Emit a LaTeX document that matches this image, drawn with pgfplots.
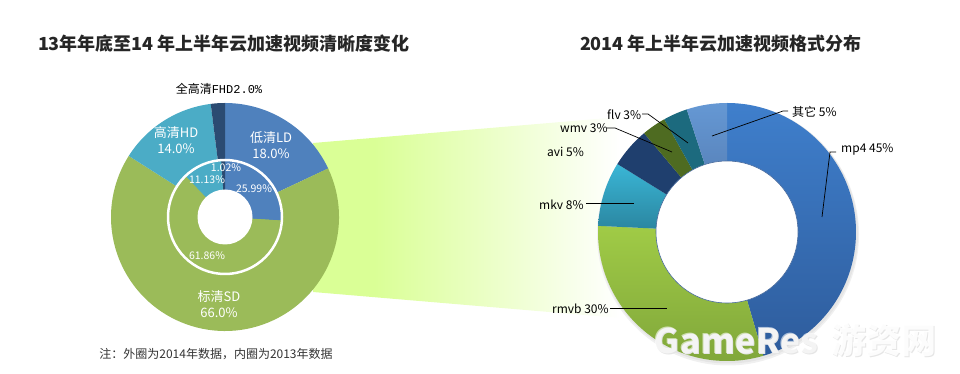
\documentclass[border=0pt]{standalone}
\usepackage{pgfplots}
\pgfplotsset{compat=1.18}
\usepackage{fontspec}
\setmainfont{Noto Sans CJK SC}
\newfontfamily\monof{Liberation Mono}
\definecolor{ld}{HTML}{4F81BD}
\definecolor{sd}{HTML}{9BBB59}
\definecolor{hd}{HTML}{4BACC6}
\definecolor{fhd}{HTML}{2B4B72}
\definecolor{mpa}{HTML}{3F7FCC}
\definecolor{mpb}{HTML}{2E5C9C}
\definecolor{rma}{HTML}{A0CB46}
\definecolor{rmb}{HTML}{7FA53A}
\definecolor{mka}{HTML}{3AB6D6}
\definecolor{mkb}{HTML}{2A849E}
\definecolor{avic}{HTML}{1F3F6E}
\definecolor{wmvc}{HTML}{4E6B21}
\definecolor{flvc}{HTML}{1C6A7E}
\definecolor{ota}{HTML}{6598D4}
\definecolor{otb}{HTML}{4E72A6}
\definecolor{cg}{HTML}{DAFF96}
\definecolor{holeb}{HTML}{4A6C9E}
\definecolor{titc}{HTML}{262626}
\pgfdeclarehorizontalshading{conn}{100bp}{color(0bp)=(cg); color(25bp)=(cg); color(35bp)=(cg); color(75bp)=(white); color(100bp)=(white)}
% #1 cx, #2 cy, #3 radius, #4 degrees per unit, #5 list value/style
\newcommand\slices[5]{%
  \xdef\cur{90}%
  \foreach \v/\c in {#5}{%
    \pgfmathsetmacro\nxt{\cur-#4*\v}%
    \edef\tmp{\noexpand\path[\c] (axis cs:#1,#2) -- ++(\cur:#3pt) arc[start angle=\cur, end angle=\nxt, radius=#3pt] -- cycle;}%
    \tmp
    \xdef\cur{\nxt}%
  }%
}
\begin{document}
\begin{tikzpicture}
\begin{axis}[x=1pt, y=1pt, xmin=0, xmax=960, ymin=0, ymax=374,
  scale only axis, hide axis, clip=false]
\path (axis cs:0,0) rectangle (axis cs:960,374);
% connector
\path[shading=conn] (axis cs:313,231) -- (axis cs:620,257) -- (axis cs:620,56) -- (axis cs:313,82) -- cycle;
% left donut: outer ring = 2014, inner = 2013
\slices{225}{157}{114}{3.6}{18/fill=ld, 66/fill=sd, 14/fill=hd, 2/fill=fhd}
\slices{225}{157}{56}{3.6}{25.99/fill=ld, 61.86/fill=sd, 11.13/fill=hd, 1.02/fill=fhd}
\draw[white, line width=2.5pt] (axis cs:225,157) circle[radius=57pt];
\fill[white] (axis cs:225,157) circle[radius=27.5pt];
% right donut
\fill[black!6] (axis cs:728,139.5) circle[radius=131pt];
\fill[black!10] (axis cs:728,140.5) circle[radius=130pt];
\slices{727}{142}{129}{3.63636}{45/{top color=mpa,bottom color=mpb}, 30/{top color=rma,bottom color=rmb}, 8/{top color=mka,bottom color=mkb}, 5/fill=avic, 3/fill=wmvc, 3/fill=flvc, 5/{top color=ota,bottom color=otb}}
\fill[white, draw=holeb, line width=0.6pt] (axis cs:727,142) circle[radius=71pt];
% titles
\node[font=\fontsize{18}{20}\selectfont\bfseries, text=titc] at (axis cs:224,330) {13年年底至14 年上半年云加速视频清晰度变化};
\node[font=\fontsize{18}{20}\selectfont\bfseries, text=titc] at (axis cs:721,330) {2014 年上半年云加速视频格式分布};
% left labels
\node[font=\fontsize{13}{16}\selectfont, text=white, align=center] at (axis cs:271,229) {低清LD\\18.0\%};
\node[font=\fontsize{13}{16}\selectfont, text=white, align=center] at (axis cs:176,234) {高清HD\\14.0\%};
\node[font=\fontsize{13}{16}\selectfont, text=white, align=center] at (axis cs:219,70) {标清SD\\66.0\%};
\node[font=\fontsize{12}{14}\selectfont, text=black] at (axis cs:219,285) {全高清{\monof FHD2.0\%}};
\node[font=\fontsize{10.5}{12}\selectfont, text=white] at (axis cs:226,206) {1.02\%};
\node[font=\fontsize{10.5}{12}\selectfont, text=white] at (axis cs:207,194) {11.13\%};
\node[font=\fontsize{10.5}{12}\selectfont, text=white] at (axis cs:254,185) {25.99\%};
\node[font=\fontsize{10.5}{12}\selectfont, text=white] at (axis cs:207,118) {61.86\%};
\node[font=\fontsize{12}{14}\selectfont, text=black!80] at (axis cs:216,20) {注：外圈为2014年数据，内圈为2013年数据};
% right labels
\begin{scope}[every node/.style={font=\fontsize{12}{14}\selectfont, anchor=west, inner sep=0pt, text=black}]
\node at (axis cs:792,262) {其它 5\%};
\node at (axis cs:841,225) {mp4 45\%};
\node at (axis cs:607,259) {flv 3\%};
\node at (axis cs:560,246) {wmv 3\%};
\node at (axis cs:547,222) {avi 5\%};
\node at (axis cs:539,169) {mkv 8\%};
\node at (axis cs:552,65) {rmvb 30\%};
\end{scope}
\begin{scope}[line width=0.7pt, black]
\draw (axis cs:712,238) -- (axis cs:783,263) -- (axis cs:788,263);
\draw (axis cs:822,157) -- (axis cs:830,222) -- (axis cs:836,222);
\draw (axis cs:642,260) -- (axis cs:648,260) -- (axis cs:688,231);
\draw (axis cs:607,246) -- (axis cs:615,246) -- (axis cs:672,222);
\draw (axis cs:586,171) -- (axis cs:634,171);
\draw (axis cs:610,66) -- (axis cs:667,66);
\end{scope}
% watermark
\begin{scope}[every node/.style={inner sep=0pt, font=\fontsize{35}{35}\selectfont\bfseries}]
\node[text=black!10] at (axis cs:737,33) {GameRes};
\node[text=black!10] at (axis cs:885,33) {游资网};
\node[text=white, opacity=0.6] at (axis cs:736,34) {GameRes};
\node[text=white, opacity=0.9] at (axis cs:884,34) {游资网};
\end{scope}
\end{axis}
\end{tikzpicture}
\end{document}
